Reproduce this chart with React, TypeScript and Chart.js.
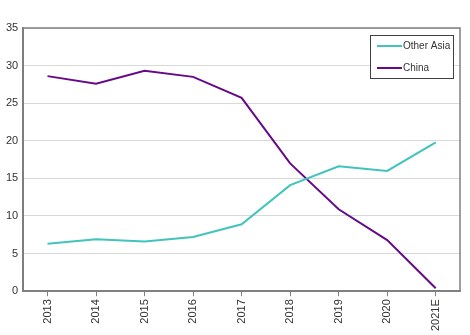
import React, { useEffect, useRef } from "react";
import { Chart, registerables } from "chart.js";

Chart.register(...registerables);

const categories = ["2013", "2014", "2015", "2016", "2017", "2018", "2019", "2020", "2021E"];
const otherAsia = [6.3, 6.9, 6.6, 7.2, 8.9, 14.1, 16.6, 16.0, 19.8];
const china = [28.6, 27.6, 29.3, 28.5, 25.7, 17.0, 10.9, 6.8, 0.4];
const yTicks = [0, 5, 10, 15, 20, 25, 30, 35];

const FONT = "'Liberation Sans', Arial, sans-serif";

const boxPlugin = {
  id: "boxAndLegend",
  afterDraw(chart: any) {
    const { ctx, chartArea } = chart;
    ctx.save();
    ctx.strokeStyle = "#7f7f7f";
    ctx.lineWidth = 1.5;
    ctx.strokeRect(chartArea.left, chartArea.top, chartArea.right - chartArea.left, chartArea.bottom - chartArea.top);
    // legend
    const w = 83, h = 43;
    const x = chartArea.right - 90, y = chartArea.top + 7;
    ctx.fillStyle = "#ffffff";
    ctx.fillRect(x, y, w, h);
    ctx.strokeStyle = "#404040";
    ctx.lineWidth = 1;
    ctx.strokeRect(x + 0.5, y + 0.5, w, h);
    ctx.font = `10px ${FONT}`;
    ctx.textBaseline = "middle";
    ctx.textAlign = "left";
    chart.data.datasets.forEach((ds: any, i: number) => {
      const ly = y + 11 + i * 22;
      ctx.strokeStyle = ds.borderColor;
      ctx.lineWidth = 2;
      ctx.beginPath();
      ctx.moveTo(x + 7, ly);
      ctx.lineTo(x + 32, ly);
      ctx.stroke();
      ctx.fillStyle = "#333333";
      ctx.fillText(ds.label, x + 33, ly);
    });
    ctx.restore();
  },
};

export default function App() {
  const ref = useRef<HTMLCanvasElement>(null);
  useEffect(() => {
    document.body.style.margin = "0";
    const chart = new Chart(ref.current!, {
      type: "line",
      data: {
        labels: categories,
        datasets: [
          { label: "Other Asia", data: otherAsia, borderColor: "#40c4bc", borderWidth: 2, pointRadius: 0, tension: 0, fill: false },
          { label: "China", data: china, borderColor: "#660a8a", borderWidth: 2, pointRadius: 0, tension: 0, fill: false },
        ],
      },
      options: {
        animation: false,
        responsive: false,
        layout: { padding: { top: 28, right: 10, left: 1, bottom: 1 } },
        plugins: { legend: { display: false }, tooltip: { enabled: false } },
        scales: {
          x: {
            offset: true,
            grid: { offset: false, drawOnChartArea: false, drawTicks: true, tickLength: 5, color: "#7f7f7f" },
            border: { color: "#7f7f7f", width: 1.5 },
            ticks: { minRotation: 90, maxRotation: 90, color: "#333333", font: { family: FONT, size: 11 }, padding: 3 },
          },
          y: {
            min: 0,
            max: 35,
            afterBuildTicks: (axis: any) => {
              axis.ticks = yTicks.map((v) => ({ value: v }));
            },
            grid: { color: "#d9d9d9", lineWidth: 1, drawTicks: false },
            border: { color: "#7f7f7f", width: 1.5 },
            ticks: { color: "#333333", font: { family: FONT, size: 11 }, padding: 5 },
          },
        },
      },
      plugins: [boxPlugin],
    });
    return () => chart.destroy();
  }, []);
  return (
    <div style={{ width: 470, height: 335 }}>
      <canvas ref={ref} width={470} height={335} style={{ display: "block" }} />
    </div>
  );
}
